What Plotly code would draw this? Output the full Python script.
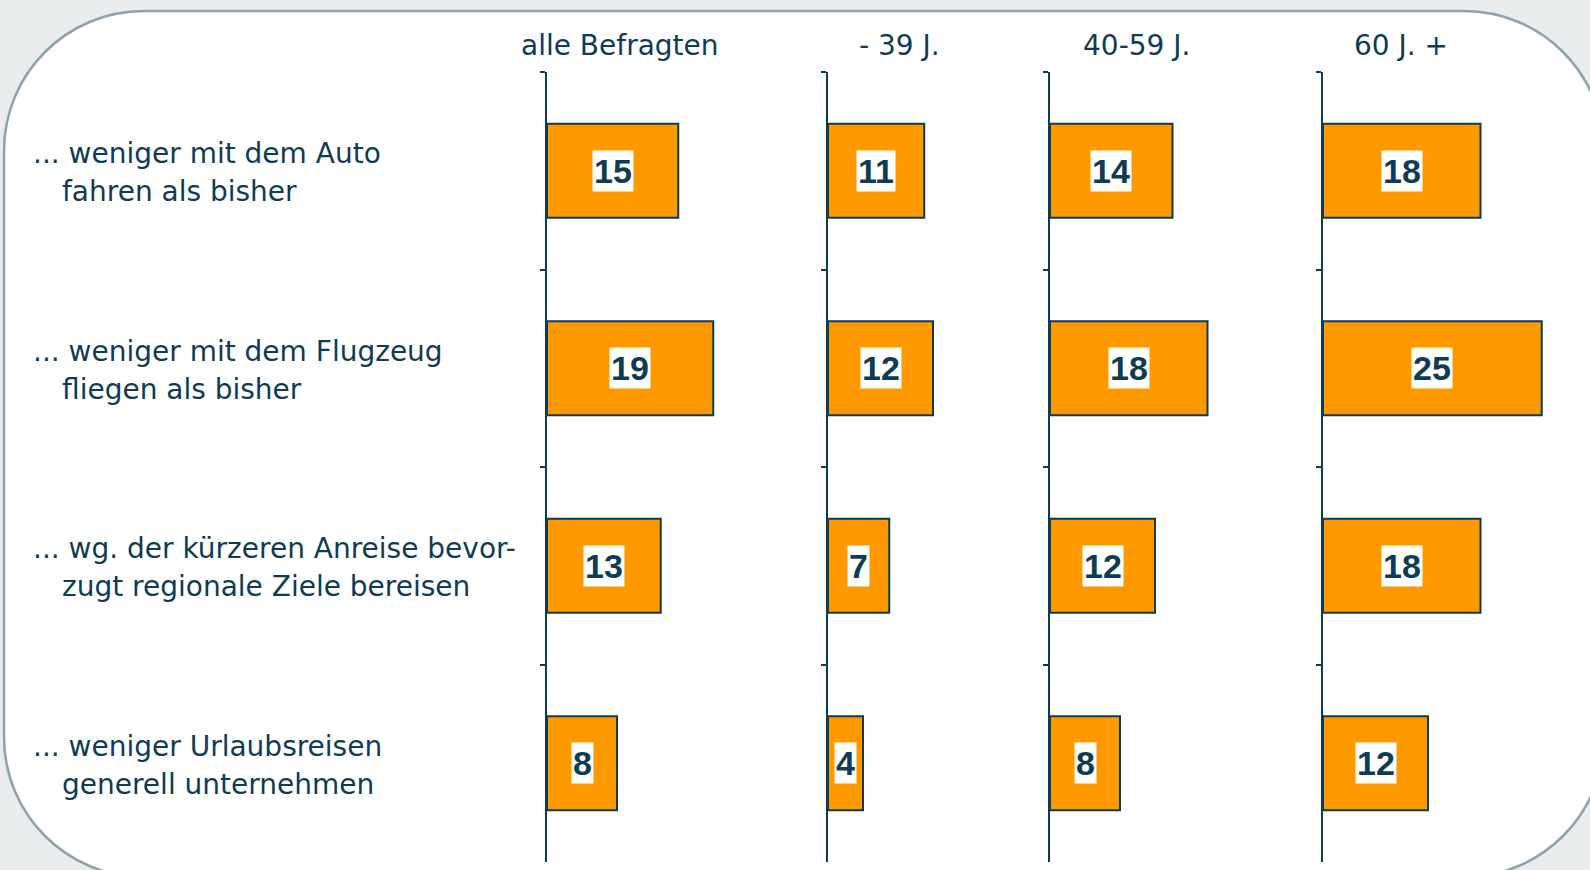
import plotly.graph_objects as go

# ---------------- data ----------------
cat_line1 = [
    "... weniger mit dem Auto",
    "... weniger mit dem Flugzeug",
    "... wg. der kürzeren Anreise bevor-",
    "... weniger Urlaubsreisen",
]
cat_line2 = [
    "fahren als bisher",
    "fliegen als bisher",
    "zugt regionale Ziele bereisen",
    "generell unternehmen",
]
categories = [a + " " + b for a, b in zip(cat_line1, cat_line2)]

groups = ["alle Befragten", "- 39 J.", "40-59 J.", "60 J. +"]
vals_alle = [15, 19, 13, 8]
vals_bis39 = [11, 12, 7, 4]
vals_40_59 = [14, 18, 12, 8]
vals_60plus = [18, 25, 18, 12]
series = [vals_alle, vals_bis39, vals_40_59, vals_60plus]

# ---------------- style / layout ----------------
W, H = 1590, 870
NAVY = "#0f3b53"
ORANGE = "#ff9900"
PX_PER_UNIT = 8.75
axis_px = [547, 828, 1050, 1323]
panel_end_px = [823, 1045, 1318, 1585]
header_px = [620, 899, 1136, 1401]
y_top_px, y_bot_px = 72, 862
TXT_SIZE = 28


def px(x):
    return x / W


def py(y):
    return 1 - y / H


fig = go.Figure()

for i, vals in enumerate(series):
    n = i + 1
    fig.add_trace(go.Bar(
        x=vals, y=categories, orientation="h",
        marker=dict(color=ORANGE, line=dict(color=NAVY, width=2)),
        xaxis=f"x{n}", yaxis=f"y{n}", hoverinfo="skip", showlegend=False,
    ))
    width_px = panel_end_px[i] - axis_px[i]
    fig.layout[f"xaxis{n}"] = dict(
        domain=[px(axis_px[i]), px(panel_end_px[i])],
        range=[0, width_px / PX_PER_UNIT], visible=False, anchor=f"y{n}",
    )
    fig.layout[f"yaxis{n}"] = dict(
        domain=[py(y_bot_px), py(y_top_px)], anchor=f"x{n}",
        type="category", categoryorder="array", categoryarray=categories,
        range=[len(categories) - 0.5, -0.5],
        showline=True, linecolor=NAVY, linewidth=2,
        ticks="outside", tickson="boundaries", ticklen=5, tickwidth=2, tickcolor=NAVY,
        showticklabels=False, showgrid=False, zeroline=False,
    )
    for v, c in zip(vals, categories):
        fig.add_annotation(
            x=v / 2, y=c, xref=f"x{n}", yref=f"y{n}", text=str(v), showarrow=False,
            font=dict(family="Liberation Sans, Arial", size=34, color=NAVY, weight="bold"),
            bgcolor="white", borderpad=1, xanchor="center", yanchor="middle",
        )
    fig.add_annotation(
        x=px(header_px[i]), y=py(46), xref="paper", yref="paper", text=groups[i],
        showarrow=False, xanchor="center", yanchor="middle",
        font=dict(family="DejaVu Sans", size=TXT_SIZE, color=NAVY),
    )

for l1, l2, c in zip(cat_line1, cat_line2, categories):
    fig.add_annotation(x=px(31), y=c, xref="paper", yref="y1", text=l1, showarrow=False,
                       xanchor="left", yanchor="middle", yshift=17,
                       font=dict(family="DejaVu Sans", size=TXT_SIZE, color=NAVY))
    fig.add_annotation(x=px(60), y=c, xref="paper", yref="y1", text=l2, showarrow=False,
                       xanchor="left", yanchor="middle", yshift=-21,
                       font=dict(family="DejaVu Sans", size=TXT_SIZE, color=NAVY))

# rounded white panel
x0, x1, y0, y1, r = 4, 1604, 11, 877, 140
k = 0.5523 * r
path = (
    f"M {px(x0 + r)},{py(y0)} L {px(x1 - r)},{py(y0)} "
    f"C {px(x1 - r + k)},{py(y0)} {px(x1)},{py(y0 + r - k)} {px(x1)},{py(y0 + r)} "
    f"L {px(x1)},{py(y1 - r)} "
    f"C {px(x1)},{py(y1 - r + k)} {px(x1 - r + k)},{py(y1)} {px(x1 - r)},{py(y1)} "
    f"L {px(x0 + r)},{py(y1)} "
    f"C {px(x0 + r - k)},{py(y1)} {px(x0)},{py(y1 - r + k)} {px(x0)},{py(y1 - r)} "
    f"L {px(x0)},{py(y0 + r)} "
    f"C {px(x0)},{py(y0 + r - k)} {px(x0 + r - k)},{py(y0)} {px(x0 + r)},{py(y0)} Z"
)
fig.add_shape(type="path", path=path, xref="paper", yref="paper", layer="below",
              fillcolor="white", line=dict(color="#8ea2ad", width=2.5))

fig.update_layout(
    width=W, height=H, margin=dict(l=0, r=0, t=0, b=0),
    paper_bgcolor="#e9edee", plot_bgcolor="rgba(0,0,0,0)",
    bargap=0.524, showlegend=False,
)

fig.write_html(
    "out.html",
    config={"displayModeBar": False},
    post_script="document.body.style.margin='0';document.body.style.overflow='hidden';",
)
